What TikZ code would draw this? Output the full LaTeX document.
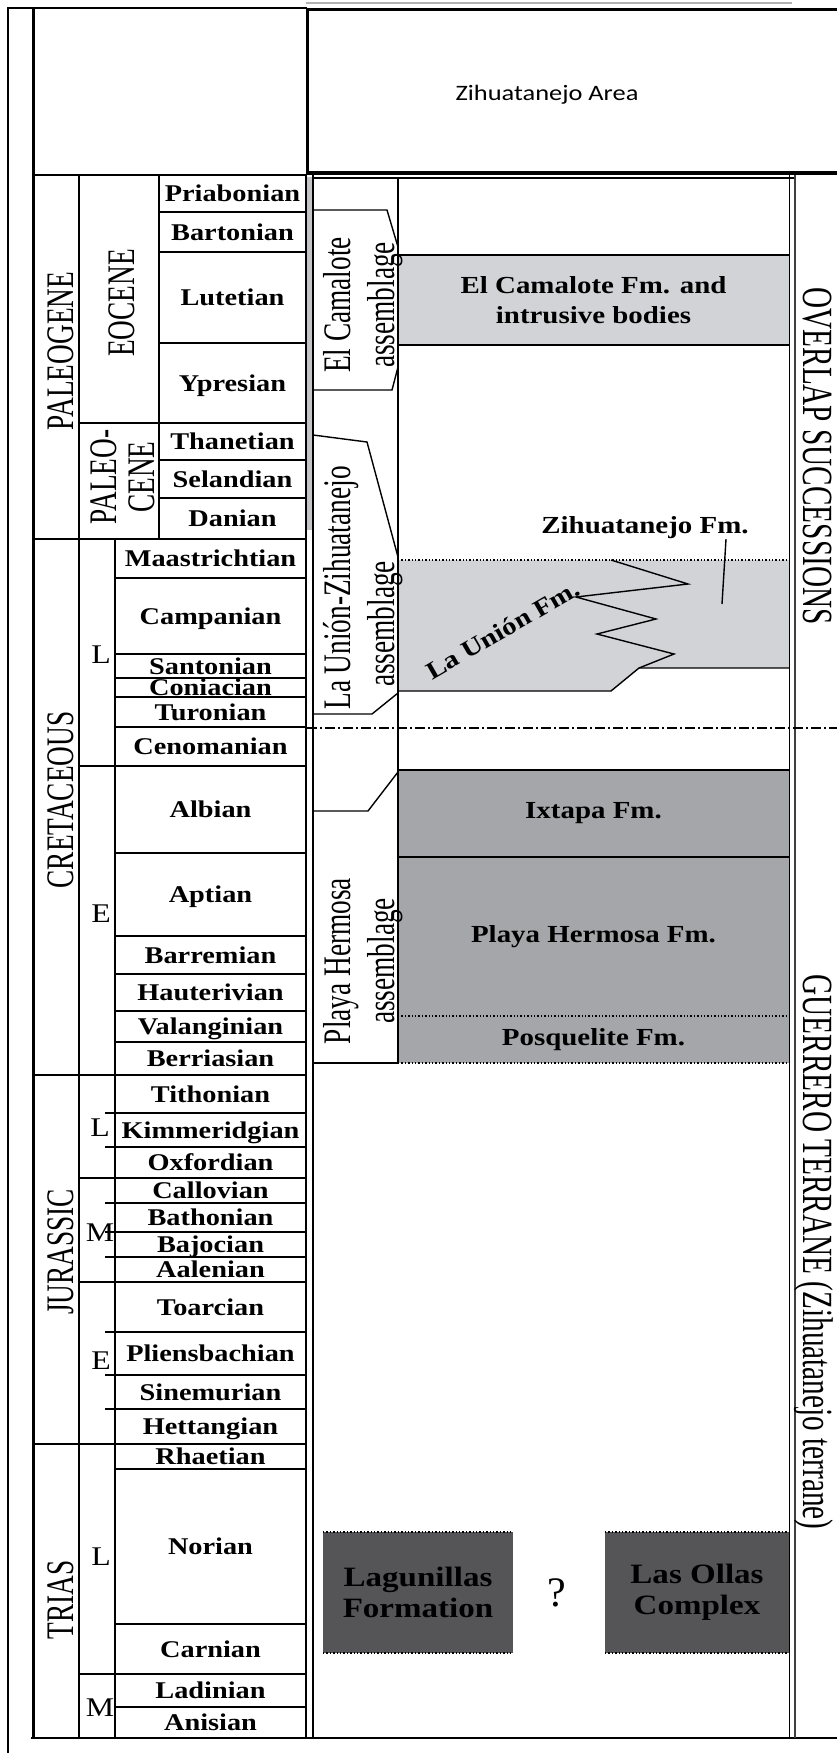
\documentclass[tikz,border=0pt]{standalone}
\usepackage{fontspec}
\setmainfont{Liberation Serif}
\newfontfamily\stagefont[FakeStretch=1.18]{Liberation Serif}
\newfontfamily\rotfont[FakeStretch=0.7]{Liberation Serif}
\newfontfamily\sidefont[FakeStretch=0.68]{Liberation Serif}
\newfontfamily\areafont[FakeStretch=1.2]{Carlito}
\definecolor{fmlight}{RGB}{210,211,215}
\definecolor{fmmid}{RGB}{165,166,170}
\definecolor{fmdark}{RGB}{85,85,88}
\definecolor{stripgray}{RGB}{195,196,200}
\usepackage{tikz}

\begin{document}
\begin{tikzpicture}[x=1pt, y=-1pt,
  ln/.style={line width=1.4pt}, thk/.style={line width=3pt},
  dotln/.style={line width=1.4pt, dotted},
  ddline/.style={line width=1.3pt, dash pattern=on 10pt off 3pt on 2pt off 3pt},
  stg/.style={font=\stagefont\bfseries\fontsize{24}{26}\selectfont, inner sep=0pt,
              text height=16pt, text depth=0pt},
  subl/.style={font=\stagefont\fontsize{27}{27}\selectfont, inner sep=0pt,
               text height=18pt, text depth=0pt},
  perl/.style={font=\rotfont\fontsize{39}{38}\selectfont, rotate=90, inner sep=0pt,
               text height=26pt, text depth=0pt},
  epl/.style={font=\rotfont\fontsize{39}{38}\selectfont, rotate=90, inner sep=0pt, align=center},
  asml/.style={font=\rotfont\fontsize{39}{44}\selectfont, rotate=90, inner sep=0pt, align=center},
  sidel/.style={font=\sidefont\fontsize{43}{43}\selectfont, rotate=-90, inner sep=0pt,
                text height=28.5pt, text depth=0pt},
  fmbox/.style={inner sep=0pt, outer sep=0pt, align=center,
                font=\stagefont\bfseries\fontsize{24.5}{30}\selectfont},
  lt/.style={fmbox, fill=fmlight}, md/.style={fmbox, fill=fmmid},
  dk/.style={fmbox, fill=fmdark, font=\stagefont\bfseries\fontsize{28}{31}\selectfont}]
\useasboundingbox (0,0) rectangle (837,1753);
% formation boxes
\node[lt, minimum width=391pt, minimum height=90pt] (camfm) at (593.5,300) {El Camalote Fm. and\\intrusive bodies};
\fill[fmlight] (398,560)--(789,560)--(789,668)--(639,668)--(611,691)--(398,691)--cycle;
\node[md, minimum width=391pt, minimum height=87pt] (ixfm) at (593.5,813.5) {Ixtapa Fm.};
\node[md, minimum width=391pt, minimum height=159pt] (phfm) at (593.5,936.5) {Playa Hermosa Fm.};
\node[md, minimum width=391pt, minimum height=47pt] (posfm) at (593.5,1039.5) {Posquelite Fm.};
\node[dk, minimum width=190pt, minimum height=121pt] (lagfm) at (418,1592.5) {Lagunillas\\Formation};
\node[dk, minimum width=184pt, minimum height=121pt] (ollfm) at (697,1592.5) {Las Ollas\\Complex};
\draw[ln] (camfm.north west)--(camfm.north east) (camfm.south west)--(camfm.south east);
\draw[ln] (ixfm.north west)--(ixfm.north east) (ixfm.south west)--(ixfm.south east);
\draw[dotln] (posfm.north west)--(posfm.north east) (posfm.south west)--(posfm.south east);
\draw[dotln] (lagfm.north west)--(lagfm.north east) (lagfm.south west)--(lagfm.south east);
\draw[dotln] (ollfm.north west)--(ollfm.north east) (ollfm.south west)--(ollfm.south east);
\draw[dotln] (398,560)--(789,560);
\draw[ln] (398,691)--(611,691)--(639,668)--(789,668);
\draw[ln] (611,560)--(688,584)--(576,597)--(656,619)--(597,634)--(674,654)--(639,668);
% frame and columns
\draw[ln] (8,1753)--(8,8)--(307,8);
\draw[thk] (33,8)--(33,1738);
\draw[ln] (31,1738)--(837,1738);
\draw[ln] (33,175)--(306,175) (313,178)--(795,178);
\draw[ln] (79,175)--(79,1738) (159,175)--(159,539) (115,539)--(115,1738) (306,175)--(306,1738);
\fill[stripgray] (307,177) rectangle (312,530);
\draw[line width=2.6pt] (313,175)--(313,1738);
\draw[ln] (398,178)--(398,1063);
\draw[line width=1.8pt] (789.5,175)--(789.5,1738);
\draw[line width=1.4pt, black!75] (795,175)--(795,1738);
\draw[gray!60, line width=1.5pt] (306,3)--(792,3);
\draw[line width=3.6pt] (837,9.5)--(307.5,9.5)--(307.5,173)--(837,173);
\node[font=\areafont\fontsize{22}{24}\selectfont, inner sep=0pt] (area) at (547,95) {Zihuatanejo Area};
\draw[ddline] (307,728)--(837,728);
% stage boundaries
\draw[ln] (159,212)--(306,212) (159,252)--(306,252) (159,343)--(306,343) (79,423)--(306,423)
  (159,460)--(306,460) (159,498)--(306,498) (33,539)--(306,539);
\draw[ln] (115,578)--(306,578) (115,654)--(306,654) (115,678)--(306,678) (115,697)--(306,697)
  (115,727)--(306,727) (79,766)--(306,766) (115,853)--(306,853) (115,936)--(306,936)
  (115,974)--(306,974) (115,1011)--(306,1011) (115,1042)--(306,1042) (33,1075)--(306,1075);
\draw[ln] (105,1113)--(306,1113) (105,1147)--(306,1147) (79,1178)--(306,1178) (105,1203)--(306,1203)
  (105,1232)--(306,1232) (105,1257)--(306,1257) (79,1282)--(306,1282) (105,1332)--(306,1332)
  (105,1375)--(306,1375) (105,1409)--(306,1409) (33,1444)--(306,1444);
\draw[ln] (115,1469)--(306,1469) (115,1624)--(306,1624) (79,1674)--(306,1674) (115,1707)--(306,1707);
% stages
\node[stg] (pria) at (232.5,193.5) {Priabonian}; \node[stg] (bart) at (232.5,232) {Bartonian};
\node[stg] (lute) at (232.5,297.5) {Lutetian}; \node[stg] (ypre) at (232.5,383) {Ypresian};
\node[stg] (than) at (232.5,441.5) {Thanetian}; \node[stg] (sela) at (232.5,479) {Selandian};
\node[stg] (dani) at (232.5,518.5) {Danian};
\node[stg] (maas) at (210.5,558.5) {Maastrichtian}; \node[stg] (camp) at (210.5,616) {Campanian};
\node[stg] (sant) at (210.5,666) {Santonian}; \node[stg] (coni) at (210.5,687.5) {Coniacian};
\node[stg] (turo) at (210.5,712) {Turonian}; \node[stg] (ceno) at (210.5,746.5) {Cenomanian};
\node[stg] (albi) at (210.5,809.5) {Albian}; \node[stg] (apti) at (210.5,894.5) {Aptian};
\node[stg] (barr) at (210.5,955) {Barremian}; \node[stg] (haut) at (210.5,992.5) {Hauterivian};
\node[stg] (vala) at (210.5,1026.5) {Valanginian}; \node[stg] (berr) at (210.5,1058.5) {Berriasian};
\node[stg] (tith) at (210.5,1094) {Tithonian}; \node[stg] (kimm) at (210.5,1130) {Kimmeridgian};
\node[stg] (oxfo) at (210.5,1162.5) {Oxfordian}; \node[stg] (call) at (210.5,1190.5) {Callovian};
\node[stg] (bath) at (210.5,1217.5) {Bathonian}; \node[stg] (bajo) at (210.5,1244.5) {Bajocian};
\node[stg] (aale) at (210.5,1269.5) {Aalenian}; \node[stg] (toar) at (210.5,1307) {Toarcian};
\node[stg] (plie) at (210.5,1353.5) {Pliensbachian}; \node[stg] (sine) at (210.5,1392) {Sinemurian};
\node[stg] (hett) at (210.5,1426.5) {Hettangian};
\node[stg] (rhae) at (210.5,1456.5) {Rhaetian}; \node[stg] (nori) at (210.5,1546.5) {Norian};
\node[stg] (carn) at (210.5,1649) {Carnian}; \node[stg] (ladi) at (210.5,1690.5) {Ladinian};
\node[stg] (anis) at (210.5,1722.5) {Anisian};
% periods, epochs
\node[perl] (paleog) at (60.5,351) {PALEOGENE}; \node[perl] (creta) at (60.5,800) {CRETACEOUS};
\node[perl] (jura) at (60.5,1252) {JURASSIC}; \node[perl] (trias) at (60.5,1600) {TRIAS};
\node[perl] (eoc) at (121.5,303) {EOCENE}; \node[epl] (paleoc) at (122.5,477) {PALEO-\\CENE};
\node[subl] (kl) at (101,654) {L}; \node[subl] (ke) at (101,913) {E};
\node[subl] (jl) at (100,1127) {L}; \node[subl] (jm) at (100,1232) {M}; \node[subl] (je) at (101,1360) {E};
\node[subl] (tl) at (101,1556) {L}; \node[subl] (tm) at (100,1707) {M};
% assemblages
\draw[ln] (313,210)--(387,210)--(398,247); \draw[ln] (398,367)--(392,390)--(313,390);
\draw[ln] (313,435)--(367,442)--(398,557); \draw[ln] (398,693)--(372,714)--(313,714);
\draw[ln] (313,811)--(368,811)--(398,772); \draw[ln] (313,1063)--(398,1063);
\node[asml] (camas) at (363,305) {El Camalote\\assemblage};
\node[asml] (unas1) at (341,588) {La Unión-Zihuatanejo};
\node[asml] (unas2) at (385,624) {assemblage};
\node[asml] (phas) at (363,961) {Playa Hermosa\\assemblage};
% labels in the chart
\node[stg, font=\stagefont\bfseries\fontsize{24.5}{26}\selectfont] (zihfm) at (645,525) {Zihuatanejo Fm.};
\coordinate (zihpt) at (722,604);
\draw[ln] ([xshift=81pt,yshift=-6pt]zihfm.south)--(zihpt);
\node[stg, font=\stagefont\bfseries\fontsize{24.5}{26}\selectfont, rotate=30] (unfm) at (503,630) {La Unión Fm.};
\node[font=\fontsize{42}{42}\selectfont, inner sep=0pt] (qmark) at (557,1593) {?};
\node[sidel] (overlap) at (818,456) {OVERLAP SUCCESSIONS};
\node[sidel] (guerr) at (818,1252) {GUERRERO TERRANE (Zihuatanejo terrane)};
\end{tikzpicture}
\end{document}
